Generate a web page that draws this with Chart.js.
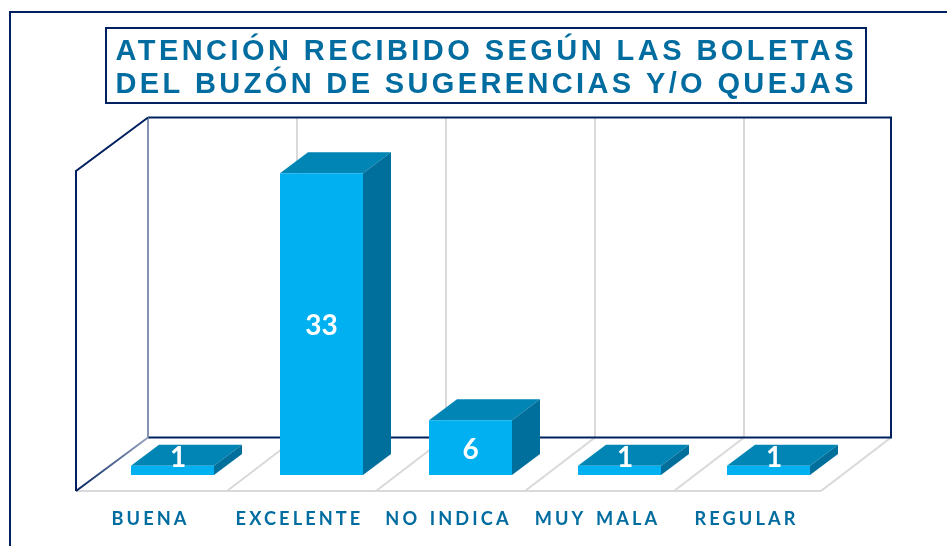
<!DOCTYPE html>
<html>
<head>
<meta charset="utf-8">
<style>html,body{margin:0;padding:0;background:#fff}canvas{display:block}</style>
<script src="https://cdn.jsdelivr.net/npm/chart.js@4"></script>
</head>
<body>
<canvas id="c" width="947" height="546"></canvas>
<script>
const categories = ['BUENA', 'EXCELENTE', 'NO INDICA', 'MUY MALA', 'REGULAR'];
const values = [1, 33, 6, 1, 1];
const titleLines = ['ATENCIÓN RECIBIDO SEGÚN LAS BOLETAS', 'DEL BUZÓN DE SUGERENCIAS Y/O QUEJAS'];

const NAVY = '#002060', GRID = '#d9d9d9', TEXT = '#006c9f';
const FRONT = '#00b0f0', TOP = '#0085b5', SIDE = '#006f9b';
const WALL = {dx: 72, dy: -53.5, rightDx: 70, floorStart: 2};
const BAR = {ox: 22, oy: -16, dx: 28, dy: -21};

function poly(ctx, pts, fill, stroke, lw) {
  ctx.beginPath();
  pts.forEach((p, i) => i ? ctx.lineTo(p[0], p[1]) : ctx.moveTo(p[0], p[1]));
  if (fill) { ctx.closePath(); ctx.fillStyle = fill; ctx.fill(); }
  if (stroke) { ctx.strokeStyle = stroke; ctx.lineWidth = lw; ctx.stroke(); }
}

const scene = {
  id: 'scene',
  beforeDraw(chart) {
    const ctx = chart.ctx;
    ctx.letterSpacing = '3.1px';
    ctx.wordSpacing = '2px';
    ctx.save();
    ctx.fillStyle = '#fff';
    ctx.fillRect(0, 0, chart.width, chart.height);
    poly(ctx, [[10, 546], [10, 12], [947, 12]], null, NAVY, 2);
    ctx.restore();
  },
  beforeDatasetsDraw(chart) {
    const ctx = chart.ctx, a = chart.chartArea, n = categories.length;
    const slot = (a.right - a.left) / n;
    const bl = a.left + WALL.dx, br = a.right + WALL.rightDx;
    const backBottom = a.bottom + WALL.dy, backTop = a.top + WALL.dy;
    ctx.save();
    ctx.lineCap = 'butt';
    // floor and back wall gridlines
    for (let i = 0; i <= n; i++) {
      const fx = a.left + i * slot;
      const bx = i === n ? br : fx + WALL.dx;
      const sx = i === n ? a.right : fx + WALL.floorStart;
      if (i > 0) poly(ctx, [[sx, a.bottom], [bx, backBottom]], null, GRID, 2);
      if (i > 0) poly(ctx, [[bx, backBottom], [bx, backTop]], null, GRID, 2);
    }
    poly(ctx, [[a.left, a.bottom], [a.right, a.bottom]], null, GRID, 2);
    // navy outline
    poly(ctx, [[bl, backTop], [br, backTop], [br, backBottom], [bl, backBottom]], null, NAVY, 2);
    poly(ctx, [[bl, backBottom], [bl, backTop]], null, '#8593b3', 2);
    poly(ctx, [[bl, backTop], [a.left, a.top], [a.left, a.bottom]], null, NAVY, 2);
    const g = ctx.createLinearGradient(a.left, a.bottom, bl, backBottom);
    g.addColorStop(0, NAVY);
    g.addColorStop(1, '#9aa5bf');
    poly(ctx, [[a.left, a.bottom], [bl, backBottom]], null, g, 2);
    ctx.restore();
  },
  beforeDatasetDraw(chart, args) {
    const ctx = chart.ctx;
    ctx.save();
    ctx.translate(BAR.ox, BAR.oy);
    args.meta.data.forEach(b => {
      const l = b.x - b.width / 2, r = b.x + b.width / 2;
      poly(ctx, [[l, b.y], [r, b.y], [r + BAR.dx, b.y + BAR.dy], [l + BAR.dx, b.y + BAR.dy]], TOP);
      poly(ctx, [[r, b.y], [r + BAR.dx, b.y + BAR.dy], [r + BAR.dx, b.base + BAR.dy], [r, b.base]], SIDE);
    });
  },
  afterDatasetDraw(chart) { chart.ctx.restore(); },
  afterDatasetsDraw(chart) {
    const ctx = chart.ctx;
    ctx.save();
    ctx.letterSpacing = '0px';
    ctx.wordSpacing = '0px';
    ctx.fillStyle = '#fff';
    ctx.font = 'bold 28px Lato';
    ctx.textAlign = 'center';
    ctx.textBaseline = 'middle';
    chart.getDatasetMeta(0).data.forEach((b, i) => {
      const small = values[i] <= 1;
      const x = b.x + BAR.ox + (small ? 5.5 : 0);
      const y = (b.y + b.base) / 2 + BAR.oy + (small ? -12 : 2);
      ctx.fillText(String(values[i]), x, y);
    });
    ctx.restore();
  },
  afterDraw(chart) {
    const ctx = chart.ctx;
    ctx.save();
    ctx.strokeStyle = NAVY;
    ctx.lineWidth = 2;
    ctx.strokeRect(106, 28, 760, 75);
    ctx.fillStyle = TEXT;
    ctx.font = 'bold 29px "Liberation Sans"';
    ctx.textAlign = 'left';
    ctx.textBaseline = 'alphabetic';
    ctx.wordSpacing = '0px';
    titleLines.forEach((t, i) => {
      ctx.letterSpacing = '0px';
      const w = ctx.measureText(t).width;
      const sp = (738 - w) / (t.length - 1);
      ctx.letterSpacing = sp + 'px';
      ctx.fillText(t, 115.5, 60 + i * 33);
    });
    ctx.restore();
    ctx.letterSpacing = '0px';
    ctx.wordSpacing = '0px';
  }
};

new Chart(document.getElementById('c'), {
  type: 'bar',
  data: {
    labels: categories,
    datasets: [{
      data: values,
      backgroundColor: FRONT,
      borderWidth: 0,
      barPercentage: 83 / 149,
      categoryPercentage: 1,
      clip: false
    }]
  },
  options: {
    responsive: false,
    animation: false,
    layout: {padding: {left: 76, right: 126, top: 171, bottom: 0}},
    plugins: {legend: {display: false}, title: {display: false}, tooltip: {enabled: false}},
    scales: {
      x: {
        grid: {display: false},
        border: {display: false},
        afterFit(s) { s.height = 55; },
        ticks: {
          color: TEXT,
          font: {family: 'Lato', weight: 'bold', size: 18.2},
          padding: 9,
          maxRotation: 0,
          autoSkip: false
        }
      },
      y: {display: false, min: 0, max: 35}
    }
  },
  plugins: [scene]
});
</script>
</body>
</html>
